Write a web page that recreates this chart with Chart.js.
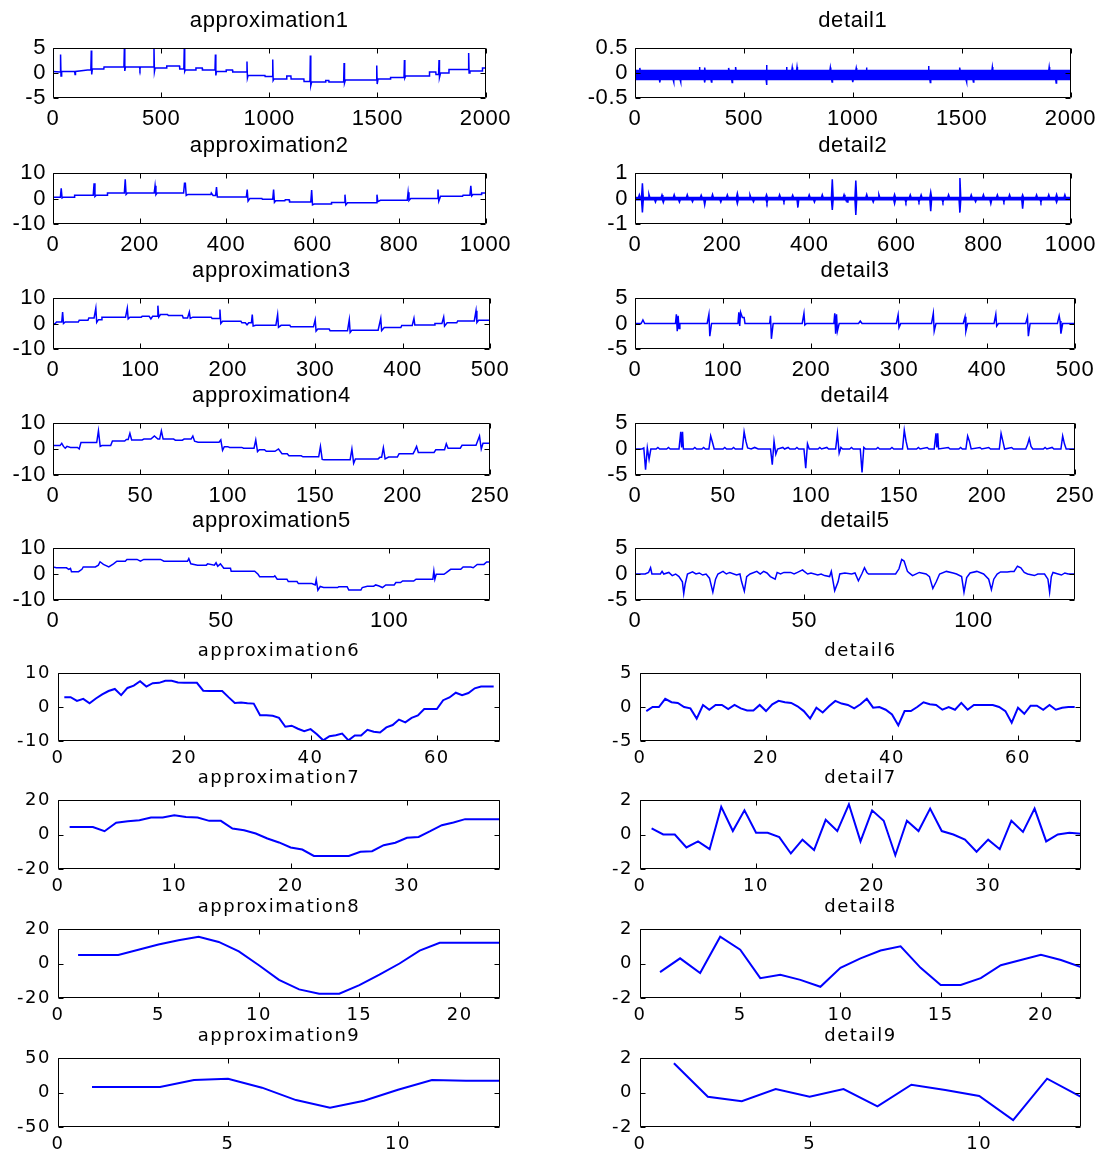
<!DOCTYPE html>
<html>
<head>
<meta charset="utf-8">
<script src="https://cdn.jsdelivr.net/npm/chart.js@4.4.0/dist/chart.umd.min.js"></script>
<style>
  html, body { margin: 0; padding: 0; background: #fff; }
  #fig { position: relative; width: 1105px; height: 1151px; overflow: hidden; }
  #fig canvas { position: absolute; }
</style>
</head>
<body>
<div id="fig"></div>
<script>
// --- valores (x, y) ---
const approx1 = [[0,0.3],[33,0.2],[35,3.7],[37,-0.6],[40,0.3],[100,0.3],[102,-0.3],[104,0.3],[160,0.6],[175,0.6],[177,4.5],[179,-0.3],[182,0.8],[235,0.8],[236,1.2],[328,1.2],[330,5],[332,0.4],[335,1.2],[400,1.2],[402,0.8],[404,1.2],[465,1.2],[467,5],[469,0.3],[472,1.0],[525,1.0],[526,1.4],[585,1.4],[586,0.8],[605,0.8],[607,5],[609,0.3],[612,0.6],[660,0.6],[661,1.0],[690,1.0],[691,0.6],[749,0.6],[751,3.7],[753,-0.5],[756,0.3],[800,0.3],[801,0.6],[830,0.6],[831,0.2],[895,0.2],[897,2.3],[899,-1],[902,-0.5],[980,-0.5],[981,-0.7],[1014,-0.7],[1016,2.7],[1018,-1.5],[1022,-1.2],[1080,-1.2],[1081,-0.6],[1100,-0.6],[1101,-1.2],[1160,-1.2],[1161,-1.7],[1188,-1.7],[1190,3.5],[1192,-2.5],[1196,-1.8],[1260,-1.8],[1261,-1.5],[1275,-1.5],[1276,-1.8],[1344,-1.8],[1346,2],[1348,-2],[1352,-1.4],[1495,-1.4],[1497,1.5],[1499,-2.2],[1503,-1.2],[1560,-1.2],[1561,-0.9],[1623,-0.9],[1625,2.6],[1627,-1],[1631,-0.6],[1740,-0.6],[1741,0.2],[1770,0.2],[1771,-0.3],[1783,-0.3],[1785,2.6],[1787,-0.9],[1792,0],[1830,0],[1831,0.7],[1920,0.7],[1922,4],[1924,0],[1928,0.4],[1985,0.4],[1986,1],[2000,1]];

// detail1: banda de ruido (borde superior / inferior)
const detail1Hi = [[0,0.05],[20,0.05],[22,0.1],[24,0.05],[294,0.05],[296,0.12],[298,0.05],[318,0.05],[320,0.11],[322,0.05],[428,0.05],[430,0.1],[432,0.05],[460,0.05],[462,0.12],[464,0.05],[602,0.05],[604,0.16],[606,0.05],[694,0.05],[696,0.12],[698,0.05],[720,0.05],[722,0.11],[724,0.05],[742,0.05],[744,0.12],[746,0.05],[895,0.05],[897,0.11],[899,0.05],[1014,0.05],[1016,0.1],[1018,0.05],[1061,0.05],[1063,0.11],[1065,0.05],[1346,0.05],[1348,0.14],[1350,0.05],[1489,0.05],[1491,0.11],[1493,0.05],[1639,0.05],[1641,0.12],[1643,0.05],[1900,0.05],[1902,0.12],[1904,0.05],[2000,0.05]];
const detail1Lo = [[0,-0.13],[112,-0.13],[114,-0.19],[116,-0.13],[175,-0.13],[177,-0.18],[179,-0.13],[207,-0.13],[209,-0.18],[211,-0.13],[318,-0.13],[320,-0.19],[322,-0.13],[349,-0.13],[351,-0.18],[353,-0.13],[444,-0.13],[446,-0.19],[448,-0.13],[602,-0.13],[604,-0.24],[606,-0.13],[903,-0.13],[905,-0.18],[907,-0.13],[998,-0.13],[1000,-0.18],[1002,-0.13],[1354,-0.13],[1356,-0.19],[1358,-0.13],[1520,-0.13],[1522,-0.18],[1524,-0.13],[1552,-0.13],[1554,-0.18],[1556,-0.13],[1932,-0.13],[1934,-0.2],[1936,-0.13],[2000,-0.13]];

const approx2 = [[0,0.5],[17,0.5],[19,4],[21,0.2],[24,0.5],[49,0.5],[50,1.3],[93,1.3],[95,6],[97,0.8],[100,1.3],[125,1.3],[126,2.2],[165,2.2],[167,7.5],[169,1.6],[172,2.2],[234,2.2],[236,5],[238,1.5],[241,2.2],[302,2.2],[304,6],[306,6],[308,1.2],[312,1.6],[365,1.6],[366,2.2],[370,1.2],[376,1.2],[378,4.5],[380,0.6],[447,0.6],[449,3.5],[451,-1],[455,0],[483,0],[484,-0.3],[508,-0.3],[510,3.5],[512,-1.5],[515,-0.9],[536,-0.9],[537,-0.5],[546,-0.5],[547,-1.4],[596,-1.4],[598,3.3],[600,-2.5],[604,-2.2],[643,-2.2],[644,-1.6],[673,-1.6],[675,1.5],[677,-2.5],[681,-1.7],[747,-1.7],[749,1.5],[751,-1.2],[757,-0.7],[819,-0.7],[821,2.5],[823,-0.8],[827,0],[888,0],[890,3.5],[892,-1],[896,0.9],[947,0.9],[948,1.3],[964,1.3],[966,5],[968,1.0],[971,1.6],[990,1.6],[991,2.2],[1000,2.2]];

const detail2Hi = [[0,0.04],[8,0.04],[10,0.15],[12,0.04],[15,0.04],[17,0.6],[19,0.04],[30,0.04],[32,0.16],[34,0.04],[60,0.04],[62,0.14],[64,0.04],[88,0.04],[90,0.15],[92,0.04],[118,0.04],[120,0.15],[122,0.04],[150,0.04],[152,0.13],[154,0.04],[176,0.04],[178,0.16],[180,0.04],[210,0.04],[212,0.14],[214,0.04],[233,0.04],[235,0.2],[237,0.04],[262,0.04],[264,0.14],[266,0.04],[300,0.04],[302,0.15],[304,0.04],[330,0.04],[332,0.15],[334,0.04],[360,0.04],[362,0.13],[364,0.04],[398,0.04],[400,0.14],[402,0.04],[428,0.04],[430,0.15],[432,0.04],[451,0.04],[453,0.75],[455,0.04],[478,0.04],[480,0.15],[482,0.04],[505,0.04],[507,0.7],[509,0.04],[530,0.04],[532,0.16],[534,0.04],[558,0.04],[560,0.15],[562,0.04],[594,0.04],[596,0.16],[598,0.04],[630,0.04],[632,0.14],[634,0.04],[655,0.04],[657,0.14],[659,0.04],[677,0.04],[679,0.25],[681,0.04],[718,0.04],[720,0.15],[722,0.04],[744,0.04],[746,0.8],[748,0.04],[770,0.04],[772,0.14],[774,0.04],[798,0.04],[800,0.15],[802,0.04],[830,0.04],[832,0.14],[834,0.04],[858,0.04],[860,0.15],[862,0.04],[888,0.04],[890,0.14],[892,0.04],[920,0.04],[922,0.14],[924,0.04],[948,0.04],[950,0.15],[952,0.04],[966,0.04],[968,0.16],[970,0.04],[985,0.04],[987,0.15],[989,0.04],[1000,0.04]];
const detail2Lo = [[0,-0.05],[15,-0.05],[17,-0.55],[19,-0.05],[45,-0.05],[47,-0.14],[49,-0.05],[63,-0.05],[65,-0.16],[67,-0.05],[100,-0.05],[102,-0.14],[104,-0.05],[130,-0.05],[132,-0.13],[134,-0.05],[158,-0.05],[160,-0.25],[162,-0.05],[195,-0.05],[197,-0.14],[199,-0.05],[233,-0.05],[235,-0.2],[237,-0.05],[270,-0.05],[272,-0.13],[274,-0.05],[301,-0.05],[303,-0.17],[305,-0.05],[340,-0.05],[342,-0.13],[344,-0.05],[372,-0.05],[374,-0.35],[376,-0.05],[410,-0.05],[412,-0.14],[414,-0.05],[451,-0.05],[453,-0.45],[455,-0.05],[485,-0.05],[487,-0.14],[489,-0.05],[505,-0.05],[507,-0.65],[509,-0.05],[545,-0.05],[547,-0.14],[549,-0.05],[594,-0.05],[596,-0.2],[598,-0.05],[620,-0.05],[622,-0.15],[624,-0.05],[650,-0.05],[652,-0.13],[654,-0.05],[677,-0.05],[679,-0.5],[681,-0.05],[705,-0.05],[707,-0.14],[709,-0.05],[744,-0.05],[746,-0.55],[748,-0.05],[780,-0.05],[782,-0.13],[784,-0.05],[815,-0.05],[817,-0.2],[819,-0.05],[845,-0.05],[847,-0.13],[849,-0.05],[888,-0.05],[890,-0.4],[892,-0.05],[930,-0.05],[932,-0.14],[934,-0.05],[966,-0.05],[968,-0.15],[970,-0.05],[1000,-0.05]];

const approx3 = [[0,0.3],[2,-0.3],[4,0.6],[10,0.6],[11,4.5],[12,0],[14,0.6],[29,0.6],[30,1.3],[40,1.3],[41,2.2],[47,2.2],[49,6],[50,0.4],[52,1.5],[55,1.5],[56,2.5],[83,2.5],[85,6],[86,1.8],[88,2.5],[101,2.5],[102,2.8],[110,2.8],[112,1.8],[114,2.8],[119,2.8],[120,7],[121,2.5],[123,3.5],[131,3.5],[132,3.1],[148,3.1],[149,2.2],[154,2.2],[156,4.5],[157,2],[160,2.5],[181,2.5],[182,2],[190,2],[191,5.5],[192,0],[194,0.9],[215,0.9],[216,0.3],[220,0.3],[222,-0.5],[224,0.3],[227,0.3],[228,3.5],[229,-1],[232,-0.7],[255,-0.7],[257,3.5],[258,-1.5],[261,-0.7],[271,-0.7],[272,-1.3],[298,-1.3],[300,1.5],[301,-3],[303,-2.2],[316,-2.2],[317,-2.8],[337,-2.8],[339,1.5],[340,-3.5],[342,-2.6],[372,-2.6],[375,2],[376,-2.8],[379,-1.6],[398,-1.6],[399,-0.8],[411,-0.8],[413,2],[414,-0.6],[436,-0.6],[437,0],[445,0],[447,2.5],[448,-1],[451,0.3],[462,0.3],[463,1],[482,1],[484,5],[485,0.4],[487,1.3],[500,1.3]];

const detail3 = [[0,0],[7,0],[9,0.7],[11,0],[46,0],[47,1.8],[48,-1.5],[49,1.5],[50,-1],[51,0],[82,0],[84,1.8],[85,-2.5],[87,0],[117,0],[118,2.2],[119,-0.5],[120,2.2],[122,1.2],[124,1.2],[125,0],[153,0],[154,1.5],[155,-3],[157,0],[190,0],[192,2],[193,-0.3],[195,0],[226,0],[227,2],[228,-2],[229,1.8],[230,-1.5],[232,0],[254,0],[256,0.5],[258,0],[297,0],[299,1.7],[300,-0.8],[302,0],[337,0],[339,2],[340,-1.5],[342,0],[373,0],[375,1.3],[376,-1.5],[378,0],[408,0],[410,1.8],[411,-0.5],[413,0],[444,0],[446,1.3],[447,-2.5],[449,0],[480,0],[482,1.5],[483,0.5],[484,-2],[486,0],[500,0]];

const approx4 = [[0,1.3],[4,1.3],[5,2.2],[6,1],[7,0.3],[8,1],[10,0.6],[14,0.6],[15,0],[16,2.5],[25,2.5],[26,7],[27,1],[28,1.3],[33,1.3],[34,3.1],[41,3.1],[42,3.7],[43,3.7],[44,6],[45,3.5],[51,3.5],[52,3.8],[56,3.8],[58,5],[60,3.8],[61,3.8],[62,7],[63,3.8],[69,3.8],[70,3.4],[74,3.4],[75,3.8],[79,3.8],[80,5],[81,3],[83,2.6],[95,2.6],[96,3.5],[97,-0.5],[98,0.9],[100,0.9],[101,0.6],[108,0.6],[109,0.3],[115,0.3],[116,3.5],[117,-1],[118,-0.3],[121,-0.3],[122,-0.9],[127,-0.9],[129,0],[131,-1.8],[134,-1.8],[135,-2.6],[142,-2.6],[143,-3],[152,-3],[153,1],[154,-4],[155,-4.1],[170,-4.1],[171,0],[172,-5.5],[173,-3.8],[186,-3.8],[187,-3.2],[188,-3.2],[189,0.5],[190,-3.8],[192,-3.1],[197,-3.1],[198,-1.8],[206,-1.8],[207,-0.5],[208,1],[209,-1.3],[218,-1.3],[219,-0.3],[224,-0.3],[225,2],[226,0.3],[233,0.3],[234,1.4],[242,1.4],[244,5],[245,0],[246,2.2],[250,2.2]];

const detail4 = [[0,0],[4,0],[5,0.2],[6,-4],[7,0.2],[8,-2],[9,0],[12,0],[13,0.3],[14,0],[18,0],[19,0.3],[20,0],[25,0],[26,3.3],[26.5,0.3],[27,3.3],[27.5,0],[33,0],[34,0.3],[35,0],[38,0],[39,0.3],[40,0],[42,0],[43,2.5],[44,1.3],[45,0],[50,0],[51,0.3],[52,0],[55,0],[56,0.3],[57,0],[61,0],[62,3.3],[63,1.5],[64,0.2],[66,0],[68,0.3],[70,0],[77,0],[78,-3],[79,1.5],[80,-1],[81,0],[84,0.3],[85,0],[87,0.3],[88,0],[91,0],[92,0.3],[93,0],[96,0],[97,-3.7],[98,1],[99,0],[104,0],[105,0.3],[106,0],[109,0.3],[110,0],[114,0],[115,3],[116,-0.8],[117,0.3],[118,0],[122,0],[123,0.3],[124,0],[128,0],[129,-4.5],[130,0.3],[131,0],[137,0],[138,0.3],[139,0],[145,0],[146,0.3],[147,0],[152,0],[153,3.6],[154,1.5],[155,0],[160,0],[161,0.3],[162,0],[166,0.3],[167,0],[170,0],[171,3],[171.5,0.3],[172,3],[172.5,0],[178,0.3],[179,0],[184,0],[185,0.3],[186,0],[188,0],[189,2.5],[190,1.5],[191,0],[196,0.3],[197,0],[201,0.3],[202,0],[207,0],[208,3],[209,1.5],[210,0],[214,0.3],[215,0],[222,0],[223,0.8],[224,2],[225,0.5],[226,0],[232,0],[233,0.3],[234,0],[237,0.3],[238,0],[242,0],[243,2.5],[244,1],[245,0],[250,0]];

const approx5 = [[0,2.7],[1,2.4],[4,2.4],[4.7,1.8],[5.2,2.2],[5.5,0.9],[7.6,0.9],[8.6,1.8],[9,2.7],[12.6,2.7],[13.5,3.4],[14,4.7],[15,3.7],[16.6,2.7],[18,3.9],[19,4.9],[21.5,4.9],[22,5.6],[25,5.6],[26,4.9],[27,5.6],[32,5.6],[33,4.9],[40,4.9],[40.4,5.9],[41,3.9],[43,3.4],[45.6,3.4],[46,3.9],[48,3.4],[48.5,4.3],[49,3],[49.8,3.9],[50.8,2.2],[52.8,2.2],[53,1.1],[60,1.1],[61,-0.1],[61.5,-1.1],[65.7,-1.1],[66,-0.7],[66.7,-2],[69.6,-2],[70,-2.9],[72.6,-2.9],[73,-3.7],[77,-3.7],[78,-4.2],[78.3,-2.2],[78.8,-6.2],[79.5,-4.8],[80.5,-5.2],[84.7,-5.2],[85,-4.9],[87.5,-4.9],[88,-6.2],[91.6,-6.2],[92,-5.2],[93.5,-4.7],[95.4,-4.7],[96,-4.2],[97,-4.6],[98,-5.2],[99,-4.2],[101.5,-4.2],[102,-3.3],[103.4,-3.3],[104,-2.7],[107.3,-2.7],[108,-2],[113,-2],[113.3,1.1],[113.6,-2],[114,-0.1],[116.3,-0.1],[117,0.5],[118.3,1.8],[121.3,1.8],[122,2.7],[124.3,2.7],[125,2.4],[126.2,3.7],[128.2,3.7],[129,4.6],[130,4.6]];

const detail5 = [[0,0],[3,0],[4,0.3],[4.6,1.2],[5,0],[7.5,0],[8,0.5],[8.5,0],[10,0.3],[11,-0.3],[12,0],[13,-0.5],[14,-1.5],[14.4,-3.75],[14.8,-2],[15.5,0],[17,0.4],[18,0],[19,0.2],[20,-0.2],[21,0],[22,-0.8],[23,-3.5],[23.8,-1],[24.5,0],[26,0.5],[27,0],[28,0.3],[30,-0.2],[31,0],[31.5,-1.5],[32.3,-3.3],[33,-0.5],[34,0],[36,0.5],[37,0],[38,0.5],[39,0.2],[40,-0.5],[41.4,-1],[42,0.3],[43,0],[44,0.3],[46,0.3],[47,0],[48,0.3],[49.5,0.8],[50,0.5],[51,0],[52,0.2],[54,-0.2],[55,0],[56,-0.3],[57.5,-0.5],[58,0.5],[59,-3.2],[60,-1.5],[60.5,0],[62,0.2],[64,0],[65,0.2],[66,-1.3],[67,0],[67.8,1.2],[68.5,0.3],[69,0],[77,0],[78,1.0],[78.8,2.8],[79.5,2.5],[80.5,0.5],[81,0.2],[82,-0.3],[84,0.3],[86,0],[87,-0.5],[88,-2.8],[89,-1.5],[90,0],[92,0.5],[94,0.2],[95,0],[96.5,-0.5],[97.2,-3.5],[98,-0.7],[99,0.2],[101,0.5],[103,0],[104.5,-1],[105.3,-3],[106,-1],[107,0],[108,0.4],[110,0.4],[111,0.5],[112,0.5],[113,1.5],[114,1.2],[115,0.3],[116,0],[118,-0.3],[119,0],[121,0],[122,-1],[122.5,-3.5],[123,-0.5],[123.5,0.3],[125,0],[126,-0.2],[127,0.2],[128,0],[130,0]];

// niveles 6-9: una muestra por indice, empezando en 1
const approx6 = [2.9,2.9,1.8,2.4,1.1,2.5,3.7,4.7,5.3,3.5,5.6,6.3,7.6,6.0,7.0,7.1,7.7,7.7,7.2,7.1,7.1,7.1,4.8,4.7,4.7,4.7,2.9,1.2,1.3,1.1,1.0,-2.4,-2.4,-2.6,-3.2,-5.8,-5.5,-6.4,-7.1,-6.5,-8.0,-9.8,-8.6,-8.3,-7.8,-9.8,-8.4,-8.4,-6.7,-7.3,-7.5,-6.0,-5.3,-3.7,-4.5,-3.2,-2.5,-0.6,-0.6,-0.6,2.0,2.8,4.2,3.5,4.1,5.5,6.0,6.0,6.0];
const detail6 = [-0.6,0,0,1.2,0.7,0.6,0,-0.2,-1.7,0.3,-0.4,0.3,0.3,-0.3,0.3,-0.2,-0.5,-0.5,0.3,-0.6,0.4,0.9,0.7,0.6,0.1,-0.6,-1.7,-0.1,-0.8,0.1,0.9,0.5,0.3,-0.2,0.4,1.2,-0.1,0,-0.4,-1.1,-2.7,-0.6,-0.6,0,0.7,0.4,0.3,-0.4,0,-0.4,0.6,-0.4,0.3,0.3,0.3,0.3,0,-0.6,-2.3,-0.1,-1.0,0.2,0.2,-0.4,0.3,-0.4,-0.1,0,0];
const approx7 = [4.3,4.3,4.3,1.9,6.8,7.7,8.3,9.9,9.9,11.2,10.2,9.9,7.9,7.9,3.5,2.5,0.6,-2.3,-4.6,-7.5,-8.7,-12.4,-12.4,-12.4,-12.4,-10,-9.7,-6.2,-4.8,-1.9,-1.4,1.9,5.4,7.0,8.9,8.9,8.9,8.9];
const detail7 = [0.35,0,0,-0.75,-0.4,-0.85,1.6,0.2,1.4,0.1,0.1,-0.15,-1.1,-0.3,-0.9,0.85,0.2,1.75,-0.4,1.4,0.8,-1.2,0.8,0.2,1.5,0.2,0,-0.3,-1.0,-0.3,-0.85,0.8,0.15,1.5,-0.4,0,0.1,0.05];
const approx8 = [5,5,5,8,11,13.5,15.5,12.5,7,-1,-9.5,-15,-17.5,-17.5,-12.5,-6.5,0,7.5,12,12,12,12];
const detail8 = [-0.5,0.3,-0.55,1.55,0.8,-0.85,-0.65,-0.95,-1.35,-0.25,0.3,0.75,1.0,-0.25,-1.25,-1.25,-0.85,-0.1,0.2,0.5,0.2,-0.2];
const approx9 = [8,8,8,18,20,7,-11,-22,-12,4,18,17,17];
const detail9 = [1.7,-0.25,-0.5,0.2,-0.25,0.2,-0.8,0.45,0.15,-0.2,-1.6,0.8,-0.25];

// --- marcas de los ejes ---
const xTicks2000 = [0,500,1000,1500,2000];
const xTicks1000 = [0,200,400,600,800,1000];
const xTicks500 = [0,100,200,300,400,500];
const xTicks250 = [0,50,100,150,200,250];
const xTicks130 = [0,50,100];
const xTicks70 = [0,20,40,60];
const xTicks38 = [0,10,20,30];
const xTicks22 = [0,5,10,15,20];
const xTicks13 = [0,5,10];

const byIndex = arr => arr.map((v, i) => [i + 1, v]);

// fila, columna, titulo, series, limites
const panels = [
  {row:0, col:0, title:'approximation1', series:[approx1], xMax:2000, xTicks:xTicks2000, yTicks:[-5,0,5]},
  {row:0, col:1, title:'detail1', band:[detail1Hi, detail1Lo], xMax:2000, xTicks:xTicks2000, yTicks:[-0.5,0,0.5]},
  {row:1, col:0, title:'approximation2', series:[approx2], xMax:1000, xTicks:xTicks1000, yTicks:[-10,0,10]},
  {row:1, col:1, title:'detail2', band:[detail2Hi, detail2Lo], xMax:1000, xTicks:xTicks1000, yTicks:[-1,0,1]},
  {row:2, col:0, title:'approximation3', series:[approx3], xMax:500, xTicks:xTicks500, yTicks:[-10,0,10]},
  {row:2, col:1, title:'detail3', series:[detail3], xMax:500, xTicks:xTicks500, yTicks:[-5,0,5]},
  {row:3, col:0, title:'approximation4', series:[approx4], xMax:250, xTicks:xTicks250, yTicks:[-10,0,10]},
  {row:3, col:1, title:'detail4', series:[detail4], xMax:250, xTicks:xTicks250, yTicks:[-5,0,5]},
  {row:4, col:0, title:'approximation5', series:[approx5], xMax:130, xTicks:xTicks130, yTicks:[-10,0,10]},
  {row:4, col:1, title:'detail5', series:[detail5], xMax:130, xTicks:xTicks130, yTicks:[-5,0,5]},
  {row:5, col:0, title:'approximation6', series:[byIndex(approx6)], xMax:70, xTicks:xTicks70, yTicks:[-10,0,10]},
  {row:5, col:1, title:'detail6', series:[byIndex(detail6)], xMax:70, xTicks:xTicks70, yTicks:[-5,0,5]},
  {row:6, col:0, title:'approximation7', series:[byIndex(approx7)], xMax:38, xTicks:xTicks38, yTicks:[-20,0,20]},
  {row:6, col:1, title:'detail7', series:[byIndex(detail7)], xMax:38, xTicks:xTicks38, yTicks:[-2,0,2]},
  {row:7, col:0, title:'approximation8', series:[byIndex(approx8)], xMax:22, xTicks:xTicks22, yTicks:[-20,0,20]},
  {row:7, col:1, title:'detail8', series:[byIndex(detail8)], xMax:22, xTicks:xTicks22, yTicks:[-2,0,2]},
  {row:8, col:0, title:'approximation9', series:[byIndex(approx9)], xMax:13, xTicks:xTicks13, yTicks:[-50,0,50]},
  {row:8, col:1, title:'detail9', series:[byIndex(detail9)], xMax:13, xTicks:xTicks13, yTicks:[-2,0,2]}
];

// --- posicion de cada caja de ejes en la pagina ---
const boxTop = [48,173,298,423,548,673,800,929,1058];
const boxBottom = [98,224,349,475,600,741,869,998,1127];
const boxLeft = { upper:[53,635], lower:[58,640] };
const boxRight = { upper:[490,1075], lower:[500,1081] };

const styleUpper = { family:'"Liberation Sans", Arial, sans-serif', titleSize:22, tickSize:22, titleGap:27, labelGap:21, lineWidth:1.5, spacing:'0.6px' };
const styleLower = { family:'"DejaVu Sans", Verdana, sans-serif', titleSize:18, tickSize:18, titleGap:22, labelGap:17, lineWidth:2, spacing:'1.5px' };

const BLUE = '#0000ff';

// caja cerrada con marcas hacia dentro, al estilo MATLAB
const matlabBox = {
  id: 'matlabBox',
  beforeDraw(chart, args, opts) {
    chart.ctx.letterSpacing = opts.spacing;
  },
  afterDraw(chart, args, opts) {
    const { ctx, chartArea: a, scales } = chart;
    const L = opts.tick;
    const l = Math.round(a.left) + 0.5, r = Math.round(a.right) - 0.5;
    const t = Math.round(a.top) + 0.5, b = Math.round(a.bottom) - 0.5;
    ctx.save();
    ctx.strokeStyle = '#000';
    ctx.lineWidth = 1;
    ctx.beginPath();
    ctx.rect(l, t, r - l, b - t);
    scales.x.ticks.forEach(tk => {
      const p = Math.round(scales.x.getPixelForValue(tk.value)) + 0.5;
      ctx.moveTo(p, b); ctx.lineTo(p, b - L);
      ctx.moveTo(p, t); ctx.lineTo(p, t + L);
    });
    scales.y.ticks.forEach(tk => {
      const p = Math.round(scales.y.getPixelForValue(tk.value)) + 0.5;
      ctx.moveTo(l, p); ctx.lineTo(l + L, p);
      ctx.moveTo(r, p); ctx.lineTo(r - L, p);
    });
    ctx.stroke();
    ctx.restore();
  }
};

const fig = document.getElementById('fig');

panels.forEach(p => {
  const side = p.row < 5 ? 'upper' : 'lower';
  const st = p.row < 5 ? styleUpper : styleLower;
  const bl = boxLeft[side][p.col], br = boxRight[side][p.col];
  const bt = boxTop[p.row], bb = boxBottom[p.row];
  const yW = p.col === 0 ? bl - 3 : 60;
  const rightPad = 30;
  const xH = 40;
  const padTop = 2;
  const padBottom = Math.round(st.titleGap - st.titleSize / 2);
  const titleH = st.titleSize + padTop + padBottom;
  const w = yW + (br - bl) + rightPad;
  const h = titleH + (bb - bt) + xH;

  const canvas = document.createElement('canvas');
  canvas.width = w; canvas.height = h;
  canvas.style.left = (bl - yW) + 'px';
  canvas.style.top = (bt - titleH) + 'px';
  canvas.style.width = w + 'px';
  canvas.style.height = h + 'px';
  fig.appendChild(canvas);

  const tickFont = { family: st.family, size: st.tickSize, lineHeight: 1 };
  let datasets;
  if (p.band) {
    datasets = [
      { data: p.band[0], borderColor: BLUE, backgroundColor: BLUE, borderWidth: st.lineWidth, fill: '+1' },
      { data: p.band[1], borderColor: BLUE, borderWidth: st.lineWidth, fill: false }
    ];
  } else {
    datasets = p.series.map(s => ({ data: s, borderColor: BLUE, borderWidth: st.lineWidth, fill: false }));
  }

  new Chart(canvas, {
    type: 'line',
    data: { datasets },
    options: {
      responsive: false,
      animation: false,
      events: [],
      layout: { padding: { left: 0, top: 0, right: rightPad, bottom: 0 } },
      elements: { point: { radius: 0 }, line: { tension: 0 } },
      plugins: {
        legend: { display: false },
        tooltip: { enabled: false },
        title: {
          display: true, text: p.title, fullSize: false, color: '#000',
          font: { family: st.family, size: st.titleSize, weight: 'normal', lineHeight: 1 },
          padding: { top: padTop, bottom: padBottom }
        },
        matlabBox: { tick: 5, spacing: st.spacing }
      },
      scales: {
        x: {
          type: 'linear', min: 0, max: p.xMax,
          grid: { display: false, drawTicks: false },
          border: { display: false },
          ticks: { color: '#000', font: tickFont, padding: st.labelGap - st.tickSize / 2,
                   autoSkip: false, maxRotation: 0, minRotation: 0, callback: v => String(v) },
          afterBuildTicks: s => { s.ticks = p.xTicks.map(v => ({ value: v })); },
          afterFit: s => { s.height = xH; }
        },
        y: {
          type: 'linear', min: p.yTicks[0], max: p.yTicks[p.yTicks.length - 1],
          grid: { display: false, drawTicks: false },
          border: { display: false },
          ticks: { color: '#000', font: tickFont, padding: 7, autoSkip: false, callback: v => String(v) },
          afterBuildTicks: s => { s.ticks = p.yTicks.map(v => ({ value: v })); },
          afterFit: s => { s.width = yW; }
        }
      }
    },
    plugins: [matlabBox]
  });
});
</script>
</body>
</html>
